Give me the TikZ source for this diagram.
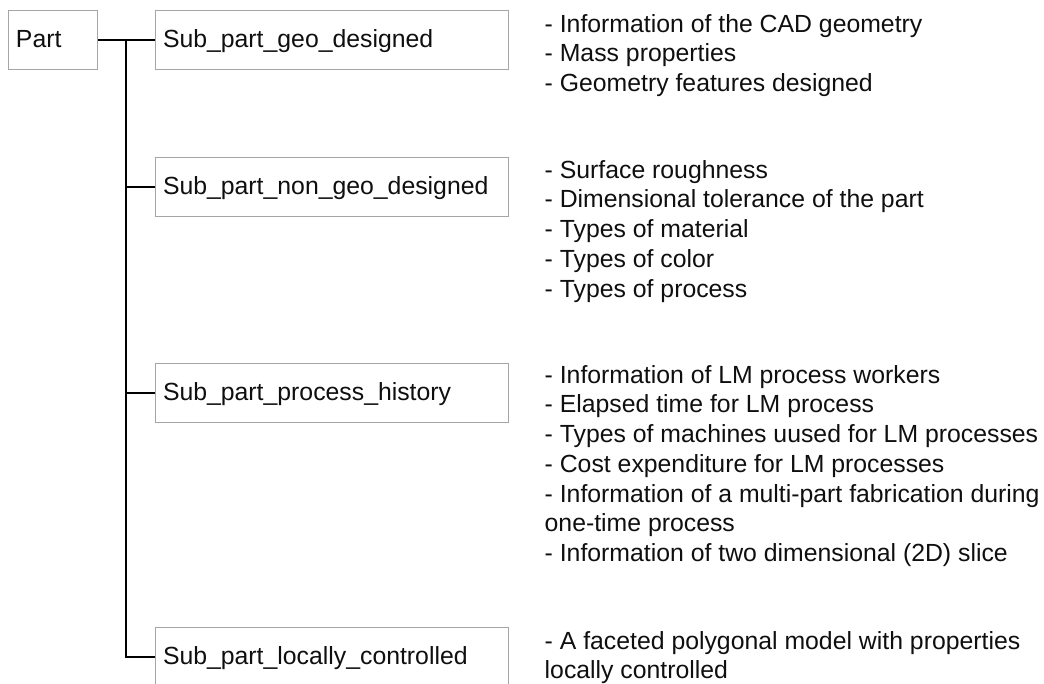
\documentclass[tikz,border=0pt]{standalone}
\usepackage{fontspec}
\setmainfont{Liberation Sans}
\definecolor{boxgray}{RGB}{165,165,165}
\definecolor{txtcol}{RGB}{15,15,15}
\begin{document}
\begin{tikzpicture}[x=1pt,y=-1pt,
  box/.style={draw=boxgray, line width=1pt, fill=white, minimum height=59pt,
    inner xsep=7.5pt, inner ysep=0pt, align=left, text=txtcol,
    font=\fontsize{24.8}{29.7}\selectfont, text height=17.8pt, text depth=3.2pt},
  sub/.style={box, minimum width=353pt, text width=338pt},
  conn/.style={line width=2pt, black},
  txt/.style={font=\fontsize{24.8}{29.7}\selectfont, inner sep=0pt, anchor=base west, text=txtcol}]
\useasboundingbox (0,0) rectangle (1044,684);
\clip (0,0) rectangle (1044,684);
% boxes
\node[box, minimum width=89pt, text width=74pt, anchor=north west] (part) at (8,10) {Part};
\node[sub, anchor=north west] (s1) at (155,10) {Sub\_part\_geo\_designed};
\node[sub, anchor=north west] (s2) at (155,157) {Sub\_part\_non\_geo\_designed};
\node[sub, anchor=north west] (s3) at (155,363) {Sub\_part\_process\_history};
\node[sub, anchor=north west] (s4) at (155,627) {Sub\_part\_locally\_controlled};
% connectors
\coordinate (tx) at (126,0);
\coordinate (j1) at (tx |- s1.west);
\coordinate (j2) at (tx |- s2.west);
\coordinate (j3) at (tx |- s3.west);
\coordinate (j4) at (tx |- s4.west);
\draw[conn] (part.east) -- (s1.west);
\draw[conn] (j1) -- (j4) -- (s4.west);
\draw[conn] (j2) -- (s2.west);
\draw[conn] (j3) -- (s3.west);
% descriptions
\foreach \t [count=\i from 0] in {{- Information of the CAD geometry},{- Mass properties},{- Geometry features designed}}
  \node[txt] (a\i) at (544.5,32.3+29.7*\i) {\t};
\foreach \t [count=\i from 0] in {{- Surface roughness},{- Dimensional tolerance of the part},{- Types of material},{- Types of color},{- Types of process}}
  \node[txt] (b\i) at (544.5,178.3+29.7*\i) {\t};
\foreach \t [count=\i from 0] in {{- Information of LM process workers},{- Elapsed time for LM process},{- Types of machines uused for LM processes},{- Cost expenditure for LM processes},{- Information of a multi-part fabrication during},{one-time process},{- Information of two dimensional (2D) slice}}
  \node[txt] (c\i) at (544.5,383.3+29.7*\i) {\t};
\foreach \t [count=\i from 0] in {{- A faceted polygonal model with properties},{locally controlled}}
  \node[txt] (d\i) at (544.5,649+29.7*\i) {\t};
\end{tikzpicture}
\end{document}
